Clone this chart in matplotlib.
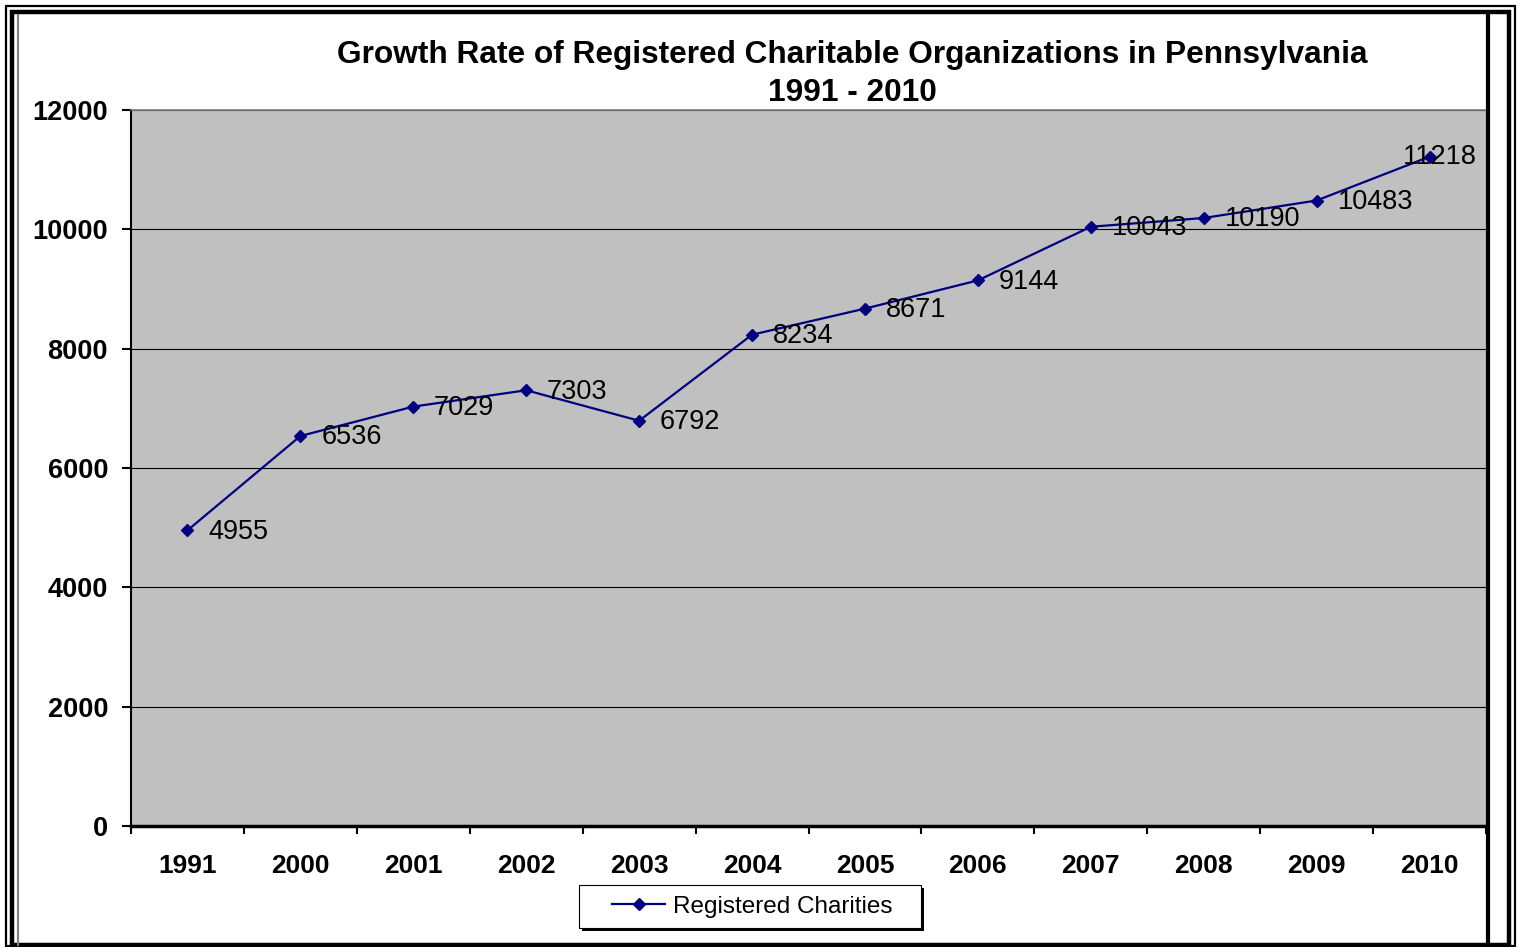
import numpy as np
import matplotlib
matplotlib.use("Agg")
import matplotlib.pyplot as plt
from matplotlib.patches import Rectangle
from matplotlib.lines import Line2D

plt.rcParams['font.family'] = ['Liberation Sans', 'DejaVu Sans']

# data
years = ['1991', '2000', '2001', '2002', '2003', '2004',
         '2005', '2006', '2007', '2008', '2009', '2010']
charities = [4955, 6536, 7029, 7303, 6792, 8234,
             8671, 9144, 10043, 10190, 10483, 11218]
yticks = [0, 2000, 4000, 6000, 8000, 10000, 12000]

W, H = 1522, 947
fig = plt.figure(figsize=(W / 100, H / 100), dpi=100)
fig.patch.set_facecolor('white')


def fx(px):
    return px / W


def fy(py):
    return 1 - py / H


def box(x0, y0, x1, y1, **kw):
    # rectangle given in pixel coords (top-left origin)
    r = Rectangle((fx(x0), fy(y1)), fx(x1) - fx(x0), fy(y0) - fy(y1),
                  transform=fig.transFigure, **kw)
    fig.patches.append(r)
    return r


# plot area
ax = fig.add_axes([fx(131), fy(826), fx(1486) - fx(131), fy(110) - fy(826)])
ax.set_facecolor('#C0C0C0')
x = np.arange(len(years))
ax.plot(x, charities, color='#000080', lw=1.6, marker='D', ms=6.5,
        mec='#000080', mfc='#000080', zorder=3, label='Registered Charities')

# value labels to the right of each point (last one pulled inside)
for i, v in enumerate(charities):
    if i == len(charities) - 1:
        ax.annotate(str(v), (i, v), xytext=(34, 0), textcoords='offset points',
                    ha='right', va='center', fontsize=19.5, zorder=4)
    else:
        ax.annotate(str(v), (i, v), xytext=(15, -1), textcoords='offset points',
                    ha='left', va='center', fontsize=19.5, zorder=4)

ax.set_xlim(-0.5, len(years) - 0.5)
ax.set_ylim(0, 12000)
ax.set_yticks(yticks)
ax.set_yticklabels([str(t) for t in yticks], fontsize=19.5, fontweight='bold')
ax.yaxis.grid(True, color='black', lw=0.8)
ax.set_axisbelow(True)

ax.set_xticks(np.arange(-0.5, len(years), 1))
ax.set_xticklabels([])
ax.set_xticks(x, minor=True)
ax.set_xticklabels(years, minor=True, fontsize=19, fontweight='bold')
ax.tick_params(axis='x', which='major', direction='out', length=6, width=1.5)
ax.tick_params(axis='x', which='minor', length=0, pad=20)
ax.tick_params(axis='y', direction='out', length=6.5, width=1.5, pad=10)

ax.spines['left'].set_linewidth(1.5)
ax.spines['bottom'].set_linewidth(2.5)
ax.spines['top'].set_color('#808080')
ax.spines['top'].set_linewidth(1.2)
ax.spines['right'].set_visible(False)

# title
fig.text(fx(852), fy(55), 'Growth Rate of Registered Charitable Organizations in Pennsylvania',
         ha='center', va='center', fontsize=22.8, fontweight='bold')
fig.text(fx(852), fy(93), '1991 - 2010', ha='center', va='center',
         fontsize=22.8, fontweight='bold')

# legend: black drop shadow + framed box, entries drawn by matplotlib
box(582, 888, 924, 931, fc='black', ec='none')
box(579, 885, 921, 928, fc='white', ec='black', lw=0.8)
leg = fig.legend(loc='center', bbox_to_anchor=(fx(752), fy(907)),
                 fontsize=17.5, frameon=False,
                 handlelength=2.2, handletextpad=0.3, borderaxespad=0)

# chart frame
box(6, 6, 1515, 946, fill=False, ec='black', lw=1.6)
box(12, 12, 1509, 945, fill=False, ec='black', lw=3.2)
fig.lines.append(Line2D([fx(18), fx(18)], [fy(15), fy(945)],
                        transform=fig.transFigure, color='#808080', lw=1.5))
fig.lines.append(Line2D([fx(1488), fx(1488)], [fy(15), fy(945)],
                        transform=fig.transFigure, color='black', lw=3.0))

fig.savefig('out.png', dpi=100, facecolor='white')
